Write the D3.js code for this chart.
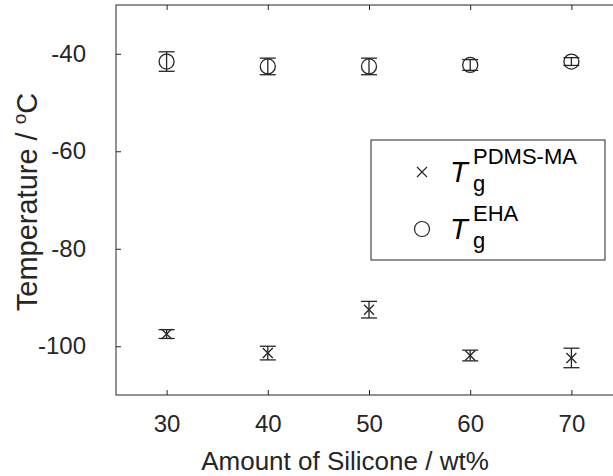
<!DOCTYPE html>
<html>
<head>
<meta charset="utf-8">
<script src="https://cdn.jsdelivr.net/npm/d3@7"></script>
<style>
  html, body { margin: 0; padding: 0; background: #fff; }
  svg { display: block; font-family: "Liberation Sans", Arial, Helvetica, sans-serif; }
</style>
</head>
<body>
<svg id="chart" width="613" height="476"></svg>
<script>
// Silicone content of each sample (wt%)
const silicone = [30, 40, 50, 60, 70];
// Glass transition of the EHA phase (°C) and its standard deviation
const tgEHA = [-41.6, -42.6, -42.6, -42.3, -41.6];
const tgEHAErr = [2.0, 1.7, 1.7, 1.1, 0.8];
// Glass transition of the PDMS-MA phase (°C) and its standard deviation
const tgPDMS = [-97.5, -101.4, -92.5, -101.9, -102.4];
const tgPDMSErr = [0.9, 1.4, 1.7, 1.1, 2.0];
// Axis ticks
const xTicks = [30, 40, 50, 60, 70];
const yTicks = [-100, -80, -60, -40];

const ink = "#262626";
const svg = d3.select("#chart");

const x = d3.scaleLinear().domain([25, 75]).range([116, 622]);
const y = d3.scaleLinear().domain([-110, -30]).range([395, 5]);

// Plot frame
svg.append("rect")
  .attr("x", x(25)).attr("y", y(-30))
  .attr("width", x(75) - x(25)).attr("height", y(-110) - y(-30))
  .attr("fill", "none").attr("stroke", ink).attr("stroke-width", 1);

// Axes with inward ticks; plain hyphen for negative labels
const fmt = d => String(d);
const gx = svg.append("g").attr("transform", `translate(0,${y(-110)})`)
  .call(d3.axisBottom(x).tickValues(xTicks).tickFormat(fmt).tickSizeInner(-5).tickSizeOuter(0).tickPadding(20));
const gxTop = svg.append("g").attr("transform", `translate(0,${y(-30)})`)
  .call(d3.axisTop(x).tickValues(xTicks).tickSizeInner(-5).tickSizeOuter(0).tickFormat(""));
const gy = svg.append("g").attr("transform", `translate(${x(25)},0)`)
  .call(d3.axisLeft(y).tickValues(yTicks).tickFormat(fmt).tickSizeInner(-5).tickSizeOuter(0).tickPadding(30));

[gx, gxTop, gy].forEach(g => {
  g.select(".domain").remove();
  g.selectAll(".tick line").attr("stroke", ink);
  g.selectAll(".tick text").attr("fill", ink).attr("font-size", 24)
    .attr("font-family", "Liberation Sans, Arial, sans-serif");
});

// Axis titles
svg.append("text")
  .attr("x", 345).attr("y", 470)
  .attr("text-anchor", "middle").attr("fill", ink).attr("font-size", 26)
  .text("Amount of Silicone / wt%");

const yTitle = svg.append("text")
  .attr("transform", `translate(37,202) rotate(-90)`)
  .attr("text-anchor", "middle").attr("fill", ink).attr("font-size", 29);
yTitle.append("tspan").text("Temperature / ");
yTitle.append("tspan").attr("font-size", 19).attr("dy", -11).text("o");
yTitle.append("tspan").attr("dy", 11).text("C");

const plot = svg.append("g");

// Error bars with caps
function errorBars(means, errs, capHalf) {
  const g = plot.append("g").attr("stroke", ink).attr("stroke-width", 1.3).attr("fill", "none");
  silicone.forEach((s, i) => {
    const cx = x(s), top = y(means[i] + errs[i]), bot = y(means[i] - errs[i]);
    g.append("line").attr("x1", cx).attr("x2", cx).attr("y1", top).attr("y2", bot);
    g.append("line").attr("x1", cx - capHalf).attr("x2", cx + capHalf).attr("y1", top).attr("y2", top);
    g.append("line").attr("x1", cx - capHalf).attr("x2", cx + capHalf).attr("y1", bot).attr("y2", bot);
  });
}
errorBars(tgEHA, tgEHAErr, 8);
errorBars(tgPDMS, tgPDMSErr, 8);

// Markers
const crossPath = s => `M${-s},${-s}L${s},${s}M${-s},${s}L${s},${-s}`;
plot.append("g").selectAll("circle").data(silicone).join("circle")
  .attr("cx", d => x(d)).attr("cy", (d, i) => y(tgEHA[i])).attr("r", 7.5)
  .attr("fill", "none").attr("stroke", ink).attr("stroke-width", 1.3);
plot.append("g").selectAll("path").data(silicone).join("path")
  .attr("transform", (d, i) => `translate(${x(d)},${y(tgPDMS[i])})`)
  .attr("d", crossPath(5)).attr("fill", "none").attr("stroke", ink).attr("stroke-width", 1.3);

// Legend
const lg = svg.append("g");
lg.append("rect").attr("x", 371).attr("y", 140).attr("width", 234).attr("height", 120)
  .attr("fill", "#fff").attr("stroke", ink).attr("stroke-width", 1);
lg.append("path").attr("transform", "translate(422,172)").attr("d", crossPath(5))
  .attr("fill", "none").attr("stroke", ink).attr("stroke-width", 1.2);
lg.append("circle").attr("cx", 422).attr("cy", 229).attr("r", 7.5)
  .attr("fill", "none").attr("stroke", ink).attr("stroke-width", 1.2);

function legendLabel(rowY, sup) {
  lg.append("text").attr("x", 450).attr("y", rowY + 10).attr("fill", "#000")
    .attr("font-size", 29).attr("font-style", "italic").text("T");
  const xs = 473;
  lg.append("text").attr("x", xs).attr("y", rowY + 19).attr("font-size", 22).attr("fill", "#000").text("g");
  lg.append("text").attr("x", xs).attr("y", rowY - 8).attr("font-size", 22).attr("fill", "#000").text(sup);
}
legendLabel(172, "PDMS-MA");
legendLabel(229, "EHA");
</script>
</body>
</html>
